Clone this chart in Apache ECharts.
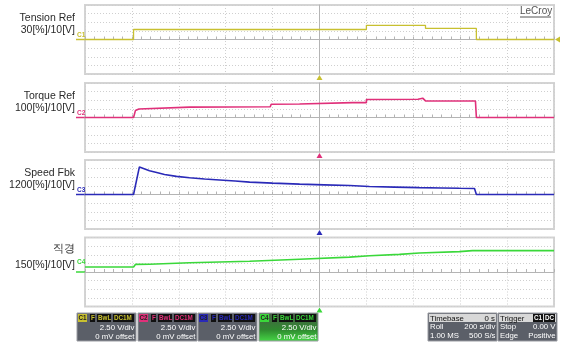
<!DOCTYPE html>
<html>
<head>
<meta charset="utf-8">
<script src="https://cdn.jsdelivr.net/npm/echarts@6/dist/echarts.min.js"></script>
<style>
  html, body { margin: 0; padding: 0; background: #ffffff; }
  #chart { width: 563px; height: 345px; }
</style>
</head>
<body>
<div id="chart"></div>
<script>
// Roll-mode capture, 200 s/div, trigger at t = 0. Values in volts (2.50 V/div).
const channelNames = ['Tension Ref', 'Torque Ref', 'Speed Fbk', '직경'];
const channelScales = ['30[%]/10[V]', '100[%]/10[V]', '1200[%]/10[V]', '150[%]/10[V]'];
const channelTags = ['C1', 'C2', 'C3', 'C4'];

const tensionT = [-1000, -793, -793, 200, 200, 452, 452, 669, 669, 1000];
const tensionV = [0, 0, 2.9, 2.9, 4.1, 4.1, 3.2, 3.2, 0, 0];

const torqueT = [-1000, -793, -785, -770, -554, -210, -206, -85, -77, 141, 200, 200, 420, 440, 448, 452, 665, 669, 1000];
const torqueV = [0, 0, 2.0, 2.45, 3.0, 3.1, 3.85, 3.9, 4.2, 4.3, 4.3, 5.2, 5.3, 5.6, 5.6, 4.8, 4.8, 0, 0];

const speedT = [-1000, -793, -768, -745, -725, -690, -661, -610, -554, -490, -426, -360, -298, -200, -85, 20, 128, 213, 320, 426, 520, 597, 661, 669, 1000];
const speedV = [0, 0, 8.0, 7.4, 6.9, 6.3, 5.8, 5.25, 4.85, 4.5, 4.2, 3.9, 3.6, 3.3, 3.0, 2.8, 2.6, 2.3, 2.15, 2.0, 1.9, 1.8, 1.72, 0, 0];

const diameterT = [-1000, -793, -785, -725, -554, -298, -85, 128, 213, 341, 426, 597, 652, 1000];
const diameterV = [1.45, 1.45, 2.2, 2.25, 2.68, 3.1, 3.7, 4.3, 4.7, 5.1, 5.5, 5.9, 6.2, 6.2];

const traceColors = ['#c8c030', '#e0307a', '#2a2ab8', '#3ad83a'];

const panelTops = [5, 83, 160, 237.5];
const panelHeight = 69;

function pairs(t, v) { return t.map((x, i) => [x, v[i]]); }
const seriesData = [
  pairs(tensionT, tensionV),
  pairs(torqueT, torqueV),
  pairs(speedT, speedV),
  pairs(diameterT, diameterV)
];

const chart = echarts.init(document.getElementById('chart'), null, { renderer: 'canvas' });

const grids = [], xAxes = [], yAxes = [], series = [];
for (let i = 0; i < 4; i++) {
  grids.push({
    left: 85, right: 9, top: panelTops[i], height: panelHeight,
    show: true, borderColor: '#d4d4d4', borderWidth: 2, backgroundColor: '#ffffff'
  });
  xAxes.push({
    type: 'value', gridIndex: i, min: -1000, max: 1000, interval: 200,
    axisLabel: { show: false },
    axisLine: { show: true, onZero: true, lineStyle: { color: '#b4b4b4', width: 1 } },
    axisTick: { show: true, inside: true, length: 3, lineStyle: { color: '#b4b4b4' } },
    minorTick: { show: true, splitNumber: 5, length: 3, lineStyle: { color: '#b4b4b4' } },
    splitLine: { show: true, lineStyle: { color: '#cfcfcf', type: [1, 2], width: 1 } }
  });
  yAxes.push({
    type: 'value', gridIndex: i, min: -10, max: 10, interval: 2.5,
    axisLabel: { show: false },
    axisLine: { show: true, onZero: true, lineStyle: { color: '#b4b4b4', width: 1 } },
    axisTick: { show: false },
    splitLine: { show: true, lineStyle: { color: '#cfcfcf', type: [1, 2], width: 1 } }
  });
  series.push({
    type: 'line', xAxisIndex: i, yAxisIndex: i, data: seriesData[i],
    showSymbol: false, symbol: 'none', animation: false,
    lineStyle: { color: traceColors[i], width: i === 0 ? 1.3 : 1.6 }
  });
}

chart.setOption({
  animation: false,
  backgroundColor: '#ffffff',
  grid: grids, xAxis: xAxes, yAxis: yAxes, series: series
});

// Overlays: channel captions, ground markers, trigger markers, status boxes.
const captionFont = '10.5px "Liberation Sans", Arial, sans-serif';
const g = [];
for (let i = 0; i < 4; i++) {
  const top = panelTops[i];
  g.push({ type: 'text', x: 75, y: top + (i === 3 ? 6 : 8),
    style: { text: channelNames[i], textAlign: 'right', fill: '#2a2a2a', font: captionFont } });
  g.push({ type: 'text', x: 75, y: top + (i === 3 ? 22 : 20),
    style: { text: channelScales[i], textAlign: 'right', fill: '#2a2a2a', font: captionFont } });

  // ground level marker on the left edge
  const zero = chart.convertToPixel({ gridIndex: i }, [-1000, i === 3 ? 1.45 : 0]);
  g.push({ type: 'text', x: 77, y: zero[1] - 8,
    style: { text: channelTags[i], fill: traceColors[i], font: 'bold 6.5px "Liberation Sans", Arial, sans-serif' } });
  g.push({ type: 'line', shape: { x1: 76, y1: zero[1] + (i === 3 ? 5 : 0), x2: 85, y2: zero[1] + (i === 3 ? 5 : 0) },
    style: { stroke: traceColors[i], lineWidth: 1.5 } });

  // trigger position marker below each panel
  const trig = chart.convertToPixel({ gridIndex: i }, [0, -10]);
  g.push({ type: 'polygon', shape: { points: [[trig[0] - 3, trig[1] + 6], [trig[0] + 3, trig[1] + 6], [trig[0], trig[1] + 1]] },
    style: { fill: traceColors[i] } });
}
// trigger level marker on C1
const lvl = chart.convertToPixel({ gridIndex: 0 }, [1000, 0]);
g.push({ type: 'polygon', shape: { points: [[lvl[0] + 1, lvl[1]], [lvl[0] + 6, lvl[1] - 3], [lvl[0] + 6, lvl[1] + 3]] },
  style: { fill: traceColors[0] } });

// brand mark
g.push({ type: 'text', x: 520, y: 6, style: { text: 'LeCroy', fill: '#555', font: '10px "Liberation Sans", Arial, sans-serif' } });
g.push({ type: 'line', shape: { x1: 520, y1: 17, x2: 551, y2: 17 }, style: { stroke: '#555', lineWidth: 1 } });

// channel status boxes
const boxX = [77, 138, 198, 259];
const small = '7.8px "Liberation Sans", Arial, sans-serif';
const tiny = 'bold 6.3px "Liberation Sans", Arial, sans-serif';
for (let i = 0; i < 4; i++) {
  const x = boxX[i], y = 313, w = 59, h = 28;
  const fillBox = i === 3
    ? new echarts.graphic.LinearGradient(0, 0, 0, 1, [{ offset: 0, color: '#4a5a4a' }, { offset: 0.6, color: '#2f8a2f' }, { offset: 1, color: '#46d846' }])
    : '#5b5f68';
  g.push({ type: 'rect', shape: { x: x, y: y, width: w, height: h }, style: { fill: fillBox, stroke: '#9a9ca2', lineWidth: 1 } });
  g.push({ type: 'rect', shape: { x: x + 1, y: y + 1, width: 9, height: 8 }, style: { fill: traceColors[i] } });
  g.push({ type: 'text', x: x + 1.5, y: y + 2, style: { text: channelTags[i], fill: '#222', font: tiny } });
  const tags = [['F', 13, 5], ['BwL', 20, 14], ['DC1M', 36, 21]];
  tags.forEach(([t, dx, tw]) => {
    g.push({ type: 'rect', shape: { x: x + dx, y: y + 1, width: tw, height: 8 }, style: { fill: '#111' } });
    g.push({ type: 'text', x: x + dx + 1, y: y + 2, style: { text: t, fill: traceColors[i], font: tiny } });
  });
  g.push({ type: 'text', x: x + w - 1.5, y: y + 11, style: { text: '2.50 V/div', textAlign: 'right', fill: '#fff', font: small } });
  g.push({ type: 'text', x: x + w - 1.5, y: y + 20, style: { text: '0 mV offset', textAlign: 'right', fill: '#fff', font: small } });
}

// timebase and trigger boxes
function infoBox(x, w, head, headRight, rows, badges) {
  g.push({ type: 'rect', shape: { x: x, y: 313, width: w, height: 28 }, style: { fill: '#5b5f68', stroke: '#9a9ca2', lineWidth: 1 } });
  g.push({ type: 'rect', shape: { x: x + 1, y: 314, width: w - 2, height: 8 }, style: { fill: '#d8d8d8' } });
  g.push({ type: 'text', x: x + 2, y: 314.5, style: { text: head, fill: '#111', font: small } });
  if (headRight) g.push({ type: 'text', x: x + w - 2, y: 314.5, style: { text: headRight, textAlign: 'right', fill: '#111', font: small } });
  (badges || []).forEach(([t, dx, tw]) => {
    g.push({ type: 'rect', shape: { x: x + dx, y: 314, width: tw, height: 8 }, style: { fill: '#111' } });
    g.push({ type: 'text', x: x + dx + 1, y: 315, style: { text: t, fill: '#fff', font: tiny } });
  });
  rows.forEach(([l, r], k) => {
    g.push({ type: 'text', x: x + 2, y: 323 + k * 9, style: { text: l, fill: '#fff', font: small } });
    g.push({ type: 'text', x: x + w - 1.5, y: 323 + k * 9, style: { text: r, textAlign: 'right', fill: '#fff', font: small } });
  });
}
infoBox(428, 69, 'Timebase', '0 s', [['Roll', '200 s/div'], ['1.00 MS', '500 S/s']]);
infoBox(498, 59, 'Trigger', null, [['Stop', '0.00 V'], ['Edge', 'Positive']], [['C1', 35, 10], ['DC', 46, 11]]);

chart.setOption({ graphic: { elements: g } });
</script>
</body>
</html>
